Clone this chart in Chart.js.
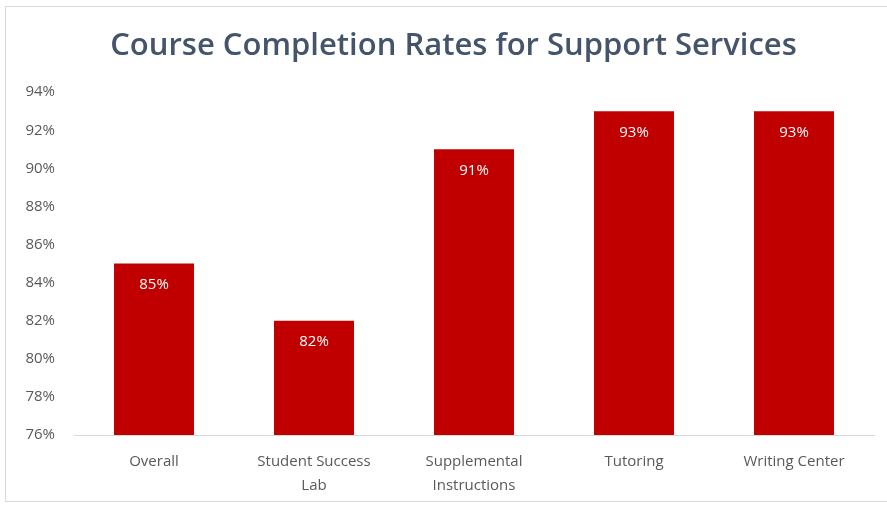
<!DOCTYPE html>
<html>
<head>
<meta charset="utf-8">
<script src="https://cdn.jsdelivr.net/npm/chart.js@4.4.1/dist/chart.umd.min.js"></script>
<style>
    html, body { margin: 0; padding: 0; background: #fff; }
    #frame {
        position: absolute; left: 5px; top: 6px; width: 885px; height: 496px;
        border: 1px solid #d9d9d9; box-sizing: border-box;
    }
    #wrap { position: absolute; left: 0; top: 0; width: 887px; height: 506px; }
</style>
</head>
<body>
<div id="frame"></div>
<div id="wrap"><canvas id="chart"></canvas></div>
<script>
// Data
const categories = ['Overall', ['Student Success', 'Lab'], ['Supplemental', 'Instructions'], 'Tutoring', 'Writing Center'];
const completionRates = [0.85, 0.82, 0.91, 0.93, 0.93];
const yMin = 0.76;
const yMax = 0.94;
const yStep = 0.02;

const fontFamily = '"Open Sans", "Noto Sans", sans-serif';

// Simple inline data label plugin (white % text inside bar top)
const barLabels = {
    id: 'barLabels',
    afterDatasetsDraw(chart) {
        const ctx = chart.ctx;
        const meta = chart.getDatasetMeta(0);
        ctx.save();
        ctx.fillStyle = '#ffffff';
        ctx.font = '15px ' + fontFamily;
        ctx.textAlign = 'center';
        ctx.textBaseline = 'middle';
        meta.data.forEach((bar, i) => {
            const v = chart.data.datasets[0].data[i];
            ctx.fillText(Math.round(v * 100) + '%', bar.x, bar.y + 21);
        });
        ctx.restore();
    }
};

const ctx = document.getElementById('chart').getContext('2d');
new Chart(ctx, {
    type: 'bar',
    data: {
        labels: categories,
        datasets: [{
            label: 'Completion Rate',
            data: completionRates,
            backgroundColor: '#c00000',
            borderWidth: 0,
            categoryPercentage: 1.0,
            barPercentage: 0.5
        }]
    },
    options: {
        responsive: true,
        maintainAspectRatio: false,
        animation: false,
        layout: { padding: { left: 20, right: 0, top: 0, bottom: 5 } },
        plugins: {
            legend: { display: false },
            tooltip: { enabled: false },
            title: {
                display: true,
                text: 'Course Completion Rates for Support Services',
                color: '#44546a',
                font: { family: fontFamily, size: 31, weight: '600', lineHeight: 1.2 },
                padding: { top: 28, bottom: 27 }
            }
        },
        scales: {
            x: {
                grid: { display: false, drawTicks: false },
                border: { display: true, color: '#d9d9d9', width: 1 },
                ticks: {
                    color: '#595959',
                    font: { family: fontFamily, size: 15, lineHeight: 1.65 },
                    padding: 14,
                    maxRotation: 0,
                    autoSkip: false
                },
                afterFit: (scale) => { scale.height = 66; }
            },
            y: {
                min: yMin,
                max: yMax,
                grid: { display: false, drawTicks: false },
                border: { display: false },
                ticks: {
                    stepSize: yStep,
                    color: '#595959',
                    font: { family: fontFamily, size: 15 },
                    padding: 19,
                    callback: (value) => Math.round(value * 100) + '%'
                },
                afterFit: (scale) => { scale.width = 54; }
            },
            // empty right-hand spacer so the plot ends where the reference does
            yRight: {
                position: 'right',
                display: true,
                grid: { display: false, drawTicks: false },
                border: { display: false },
                ticks: { display: false },
                afterFit: (scale) => { scale.width = 13; }
            }
        }
    },
    plugins: [barLabels]
});
</script>
</body>
</html>
